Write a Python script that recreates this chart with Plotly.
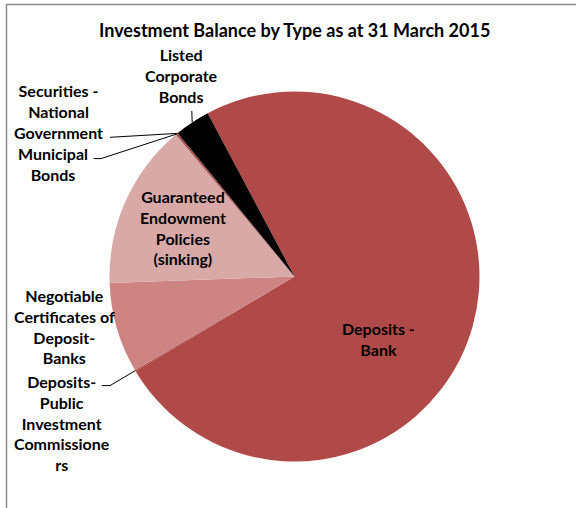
import math
import plotly.graph_objects as go

# ---- data ----
labels = [
    "Deposits - Bank",
    "Deposits- Public Investment Commissioners",
    "Negotiable Certificates of Deposit- Banks",
    "Guaranteed Endowment Policies (sinking)",
    "Municipal Bonds",
    "Securities - National Government",
    "Listed Corporate Bonds",
]
values = [74.3, 0.1, 7.9, 14.5, 0.1, 0.1, 3.1]
display_text = [
    "Deposits -<br>Bank",
    "Deposits-<br>Public<br>Investment<br>Commissione<br>rs",
    "Negotiable<br>Certificates of<br>Deposit-<br>Banks",
    "Guaranteed<br>Endowment<br>Policies<br>(sinking)",
    "Municipal<br>Bonds",
    "Securities -<br>National<br>Government",
    "Listed<br>Corporate<br>Bonds",
]
colors = ["#B04A48", "#A8423F", "#CD8482", "#D9A9A8", "#9E3B3A", "#8C3331", "#000000"]
title = "Investment Balance by Type as at 31 March 2015"

# ---- layout geometry (pixels) ----
W, H = 576, 508
CX, CY, R = 294.5, 276.5, 185.0
ROT = 332.0
FONT = "Lato"


def px(x, y):
    return x / W, 1 - y / H


def mid_edge(i, frac=0.5):
    tot = sum(values)
    start = ROT + 360.0 * sum(values[:i]) / tot
    ang = start + 360.0 * values[i] / tot * frac
    a = math.radians(ang)
    return CX + R * math.sin(a), CY - R * math.cos(a)


fig = go.Figure()
fig.add_trace(go.Pie(
    labels=labels,
    values=values,
    sort=False,
    direction="clockwise",
    rotation=ROT,
    marker=dict(colors=colors, line=dict(width=0)),
    textinfo="none",
    hoverinfo="label+percent",
    showlegend=False,
    domain=dict(x=[(CX - R) / W, (CX + R) / W], y=[1 - (CY + R) / H, 1 - (CY - R) / H]),
))

# label positions (pixel centres)
label_pos = {
    0: (378.4, 339.0),
    1: (61.5, 423.0),
    2: (64.0, 326.7),
    3: (182.6, 227.5),
    4: (53.3, 164.4),
    5: (58.8, 111.6),
    6: (181.0, 75.8),
}

annotations = []
for i, (x, y) in label_pos.items():
    xp, yp = px(x, y)
    annotations.append(dict(
        x=xp, y=yp, xref="paper", yref="paper", text="<b>" + display_text[i] + "</b>",
        showarrow=False, xanchor="center", yanchor="middle", align="center",
        font=dict(family=FONT, size=16, color="#000000"),
    ))
tx, ty = px(294.0, 30.0)
annotations.append(dict(
    x=tx, y=ty, xref="paper", yref="paper", text="<b>" + title + "</b>",
    showarrow=False, xanchor="center", yanchor="middle",
    font=dict(family=FONT, size=18, color="#000000"),
))

# leader lines
def path(points):
    pts = [px(x, y) for x, y in points]
    return "M " + " L ".join(f"{a:.5f} {b:.5f}" for a, b in pts)

leaders = [
    [(191.8, 111.0), mid_edge(6)],
    [(110.0, 137.3), mid_edge(5)],
    [(93.7, 158.6), (101.0, 158.6), mid_edge(4)],
    [(101.8, 385.6), (110.0, 385.6), mid_edge(1)],
]
shapes = []
for pts in leaders:
    shapes.append(dict(type="path", xref="paper", yref="paper", path=path(pts),
                       line=dict(color="#000000", width=1)))

# chart frame
x0, y0 = px(6.5, 4.5)
x1, y1 = px(620, 560)
shapes.append(dict(type="rect", xref="paper", yref="paper", x0=x0, y0=y1, x1=x1, y1=y0,
                   line=dict(color="#8C8C8C", width=1.5), layer="above"))

fig.update_layout(
    width=W, height=H,
    margin=dict(l=0, r=0, t=0, b=0),
    paper_bgcolor="white", plot_bgcolor="white",
    annotations=annotations, shapes=shapes,
    font=dict(family=FONT),
)
fig.write_html(
    "out.html",
    config={"displayModeBar": False},
    post_script="document.body.style.margin='0';document.body.style.overflow='hidden';",
)
